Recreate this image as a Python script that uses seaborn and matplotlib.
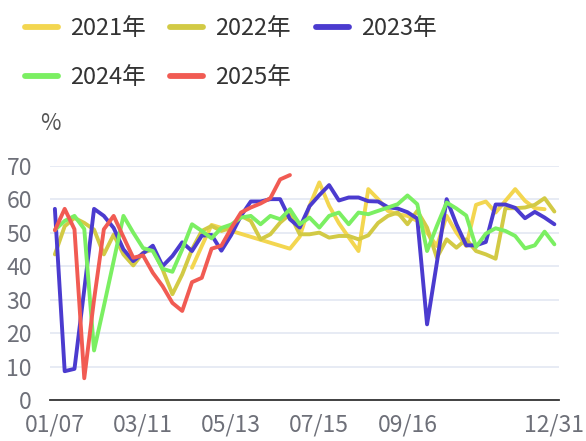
import numpy as np
import pandas as pd
import seaborn as sns
import matplotlib.pyplot as plt
from matplotlib.lines import Line2D

# weekly categories: 01/07 ... then 12/31 as the last one
weeks = list(pd.date_range("2023-01-07", periods=51, freq="7D").strftime("%m/%d")) + ["12/31"]

N = np.nan
y2021 = [N, N, N, N, N, N, N, N, N, N, N, N, N, N, 39.5, 46, 52.3, N, N, N,
         N, N, N, N, 45.2, 48.8, 58, 65, 58, 52.8, 48.6, 44.5, 63, 60, 56.5, 55.5,
         55, 53.5, 50, 46, 55, 50, 46, 58.3, 59.3, 56, 59.5, 63, 59.5, 57.3, 57, N]
y2022 = [43.5, 51.9, 54.4, 52.9, 50.9, 43.5, 49.4, 43.5, 40.2, 44, 45, 39, 31.6, 37.5,
         45, 50.5, 52, 50.5, 51.5, 55, 53.5, 48, 49.5, 53, 55.5, 49.5, 49.5, 50, 48.5,
         49, 49, 48, 49.2, 52.9, 55, 56, 52.5, 56.5, 51.5, 42.5, 48, 45.5, 48, 44.5,
         43.5, 42.2, 57.3, 57.3, 57.5, 58.3, 60.3, 56.3]
y2023 = [57.1, 8.6, 9.3, 33, 57.1, 55, 51.4, 45, 41.5, 43.8, 46.1, 40, 43, 47.1, 44.5,
         49.1, 49.3, 44.6, 49.3, 55, 59.3, 59.3, 60, 60, 54, 51.5, 57.9, 61.2, 64.2,
         59.6, 60.5, 60.5, 59.4, 59.3, 57.6, 57.2, 56.1, 54.2, 22.6, 41, 60, 52.5,
         46.2, 46.2, 47.2, 58.4, 58.4, 57.4, 54.3, 56.2, 54.5, 52.5]
y2024 = [50.8, 53.5, 55, 51.1, 14.8, 28, 41.5, 55, 50, 45.4, 44.5, 39.2, 38.3, 45,
         52.5, 50.5, 48.3, 51.4, 52.4, 54.5, 55, 52.5, 55, 54, 57, 52.5, 54.5, 51.5,
         55, 56, 52.5, 56, 55.5, 56.5, 57.5, 58.5, 61.1, 58.5, 44.5, 52, 59, 57.2,
         55.1, 45.7, 49.7, 51.3, 50.5, 49, 45.3, 46.2, 50.3, 46.5]
y2025 = [50.7, 57.1, 51, 6.5, 30, 51, 55, 48.7, 42.5, 43.2, 38, 34, 29, 26.6, 35.2,
         36.5, 45.2, 46.1, 51.3, 56, 57.5, 58.7, 60.3, 65.9, 67.2]

years = ["2021年", "2022年", "2023年", "2024年", "2025年"]
colors = ["#F3D650", "#D2CA45", "#4B3BCF", "#7BEF62", "#F15B53"]

frames = []
for name, vals in zip(years, [y2021, y2022, y2023, y2024, y2025]):
    frames.append(pd.DataFrame({"idx": range(len(vals)), "val": vals, "year": name}))
df = pd.concat(frames).dropna()

sns.set_style("white")
plt.rcParams["font.family"] = ["Noto Sans CJK SC", "DejaVu Sans"]

fig = plt.figure(figsize=(5.86, 4.41), dpi=100)
ax = fig.add_axes([0.0853, 0.093, 0.8691, 0.5313])

sns.lineplot(data=df, x="idx", y="val", hue="year", palette=dict(zip(years, colors)),
             estimator=None, sort=False, linewidth=2.8, legend=False, ax=ax)

ax.set_xlim(-0.5, len(weeks) - 0.5)
ax.set_ylim(0, 70)
ax.set_yticks(range(0, 71, 10))
ax.yaxis.grid(True, color="#E0E6F1", linewidth=1.1)
ax.set_axisbelow(True)
ax.tick_params(axis="y", length=0, pad=13, labelsize=16.5, labelcolor="#6E7079")

lab_idx = [0, 9, 18, 27, 36, 51]
ax.set_xticks([i - 0.5 for i in [0, 9, 18, 27, 36, 45]] + [len(weeks) - 0.5])
ax.set_xticklabels([])
ax.set_xticks(lab_idx, minor=True)
ax.set_xticklabels([weeks[i] for i in lab_idx], minor=True)
ax.tick_params(axis="x", which="major", length=6, width=1.3, color="#333333", direction="out")
ax.tick_params(axis="x", which="minor", length=0, pad=10, labelsize=16.5, labelcolor="#6E7079")
ax.set_xlabel("")
ax.set_ylabel("")

for s in ["top", "right", "left"]:
    ax.spines[s].set_visible(False)
ax.spines["bottom"].set_color("#333333")
ax.spines["bottom"].set_linewidth(1.3)

fig.text(50 / 586, 1 - 124 / 441, "%", ha="center", va="center", fontsize=16, color="#555555")

handles = [Line2D([], [], color=c, linewidth=4.2) for c in colors]
order = [0, 3, 1, 4, 2]
fig.legend([handles[i] for i in order], [years[i] for i in order], ncol=3,
           loc="upper left", bbox_to_anchor=(13 / 586, 1 - 5 / 441), frameon=False,
           fontsize=17, handlelength=1.4, handletextpad=0.5, columnspacing=1.05,
           labelspacing=1.12, borderpad=0, labelcolor="#333333")

fig.savefig("out.png", dpi=100)
